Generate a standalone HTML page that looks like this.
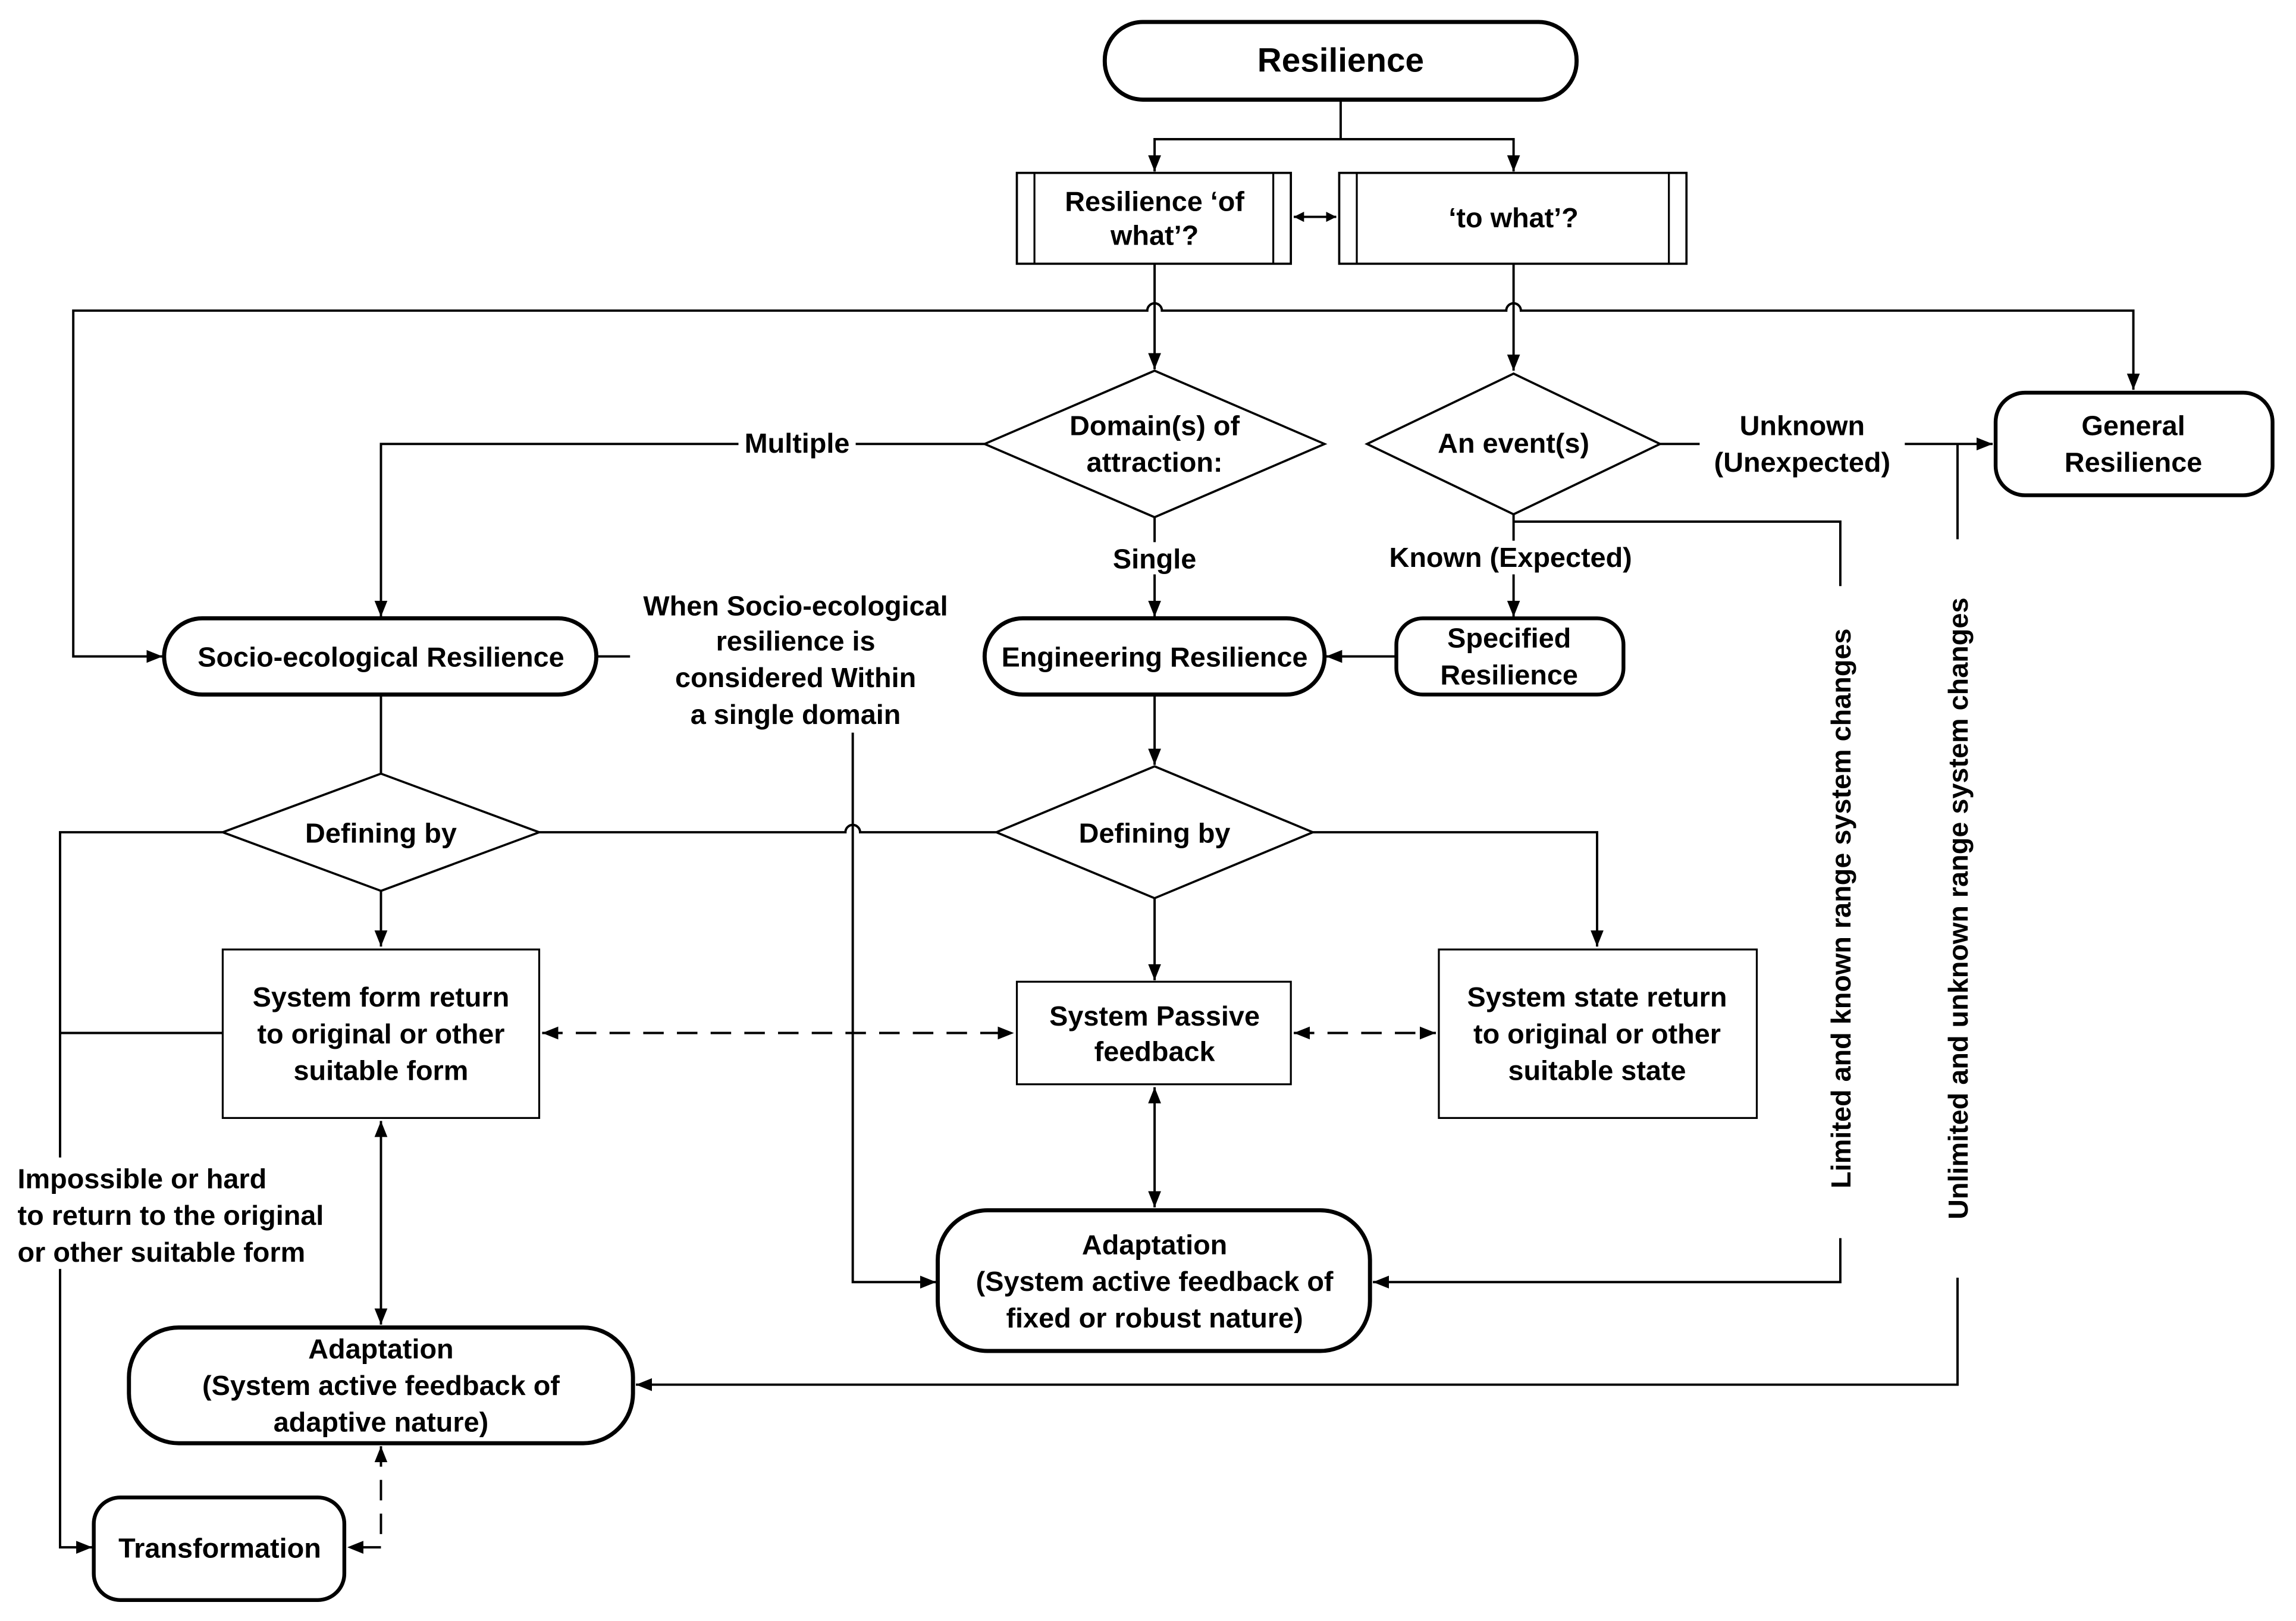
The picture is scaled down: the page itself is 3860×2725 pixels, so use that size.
<!DOCTYPE html>
<html><head><meta charset="utf-8"><style>
html,body{margin:0;padding:0;background:#fff;}
svg{display:block;}
text{font-family:"Liberation Sans",Arial,sans-serif;font-weight:bold;font-size:19px;fill:#000;text-anchor:middle;}
</style></head><body>
<svg width="3860" height="2725" viewBox="0 0 1567 1106.3" preserveAspectRatio="none" xmlns="http://www.w3.org/2000/svg">
<defs>
<marker id="a" viewBox="0 0 10 10" refX="10" refY="5" markerWidth="7" markerHeight="7" orient="auto-start-reverse" markerUnits="userSpaceOnUse"><path d="M0,0L10,5L0,10z" fill="#000"/></marker>
<marker id="b" viewBox="0 0 10 10" refX="10" refY="5" markerWidth="11" markerHeight="11" orient="auto-start-reverse" markerUnits="userSpaceOnUse"><path d="M0,1L10,5L0,9z" fill="#000"/></marker>
</defs>
<rect width="1567" height="1106.3" fill="#fff"/>
<g fill="none" stroke="#000" stroke-width="1.6">
<polyline points="915,68 915,95 788,95 788,117" marker-end="url(#b)"/>
<polyline points="915,95 1033,95 1033,117" marker-end="url(#b)"/>
<line x1="883" y1="148" x2="912" y2="148" marker-start="url(#a)" marker-end="url(#a)"/>
<path d="M112,448 L50,448 L50,212 L783,212 A5,5 0 0 1 793,212 L1028,212 A5,5 0 0 1 1038,212 L1456,212 L1456,266" marker-end="url(#b)"/>
<line x1="60" y1="448" x2="111" y2="448" marker-end="url(#b)"/>
<line x1="788" y1="180" x2="788" y2="252" marker-end="url(#b)"/>
<line x1="1033" y1="180" x2="1033" y2="253" marker-end="url(#b)"/>
<polyline points="672,303 260,303 260,421" marker-end="url(#b)"/>
<line x1="788" y1="353" x2="788" y2="421" marker-end="url(#b)"/>
<line x1="1133" y1="303" x2="1360" y2="303" marker-end="url(#b)"/>
<line x1="1033" y1="351" x2="1033" y2="421" marker-end="url(#b)"/>
<polyline points="1033,356 1256,356 1256,400"/>
<polyline points="1256,845 1256,875 937,875" marker-end="url(#b)"/>
<line x1="1336" y1="303" x2="1336" y2="368"/>
<polyline points="1336,872 1336,945 434,945" marker-end="url(#b)"/>
<line x1="953" y1="448" x2="905" y2="448" marker-end="url(#b)"/>
<line x1="407" y1="448" x2="430" y2="448"/>
<polyline points="582,500 582,875 639,875" marker-end="url(#b)"/>
<line x1="260" y1="474" x2="260" y2="528"/>
<line x1="788" y1="474" x2="788" y2="522" marker-end="url(#b)"/>
<path d="M368,568 L577,568 A5,5 0 0 1 587,568 L680,568"/>
<polyline points="896,568 1090,568 1090,646" marker-end="url(#b)"/>
<polyline points="152,568 41,568 41,790"/>
<polyline points="41,866 41,1056 63,1056" marker-end="url(#b)"/>
<line x1="41" y1="705" x2="152" y2="705"/>
<line x1="260" y1="608" x2="260" y2="646" marker-end="url(#b)"/>
<line x1="788" y1="613" x2="788" y2="669" marker-end="url(#b)"/>
<line x1="370" y1="705" x2="692" y2="705" stroke-dasharray="14,9" marker-start="url(#b)" marker-end="url(#b)"/>
<line x1="883" y1="705" x2="980" y2="705" stroke-dasharray="14,9" marker-start="url(#b)" marker-end="url(#b)"/>
<line x1="788" y1="742" x2="788" y2="824" marker-start="url(#b)" marker-end="url(#b)"/>
<line x1="260" y1="765" x2="260" y2="904" marker-start="url(#b)" marker-end="url(#b)"/>
<polyline points="260,987 260,1056 237,1056" stroke-dasharray="14,9" marker-start="url(#b)" marker-end="url(#b)"/>
</g>
<g fill="#fff" stroke="#000">
<rect x="754" y="15" width="322" height="53" rx="26" stroke-width="2.8"/>
<rect x="694" y="118" width="187" height="62" stroke-width="1.5"/>
<line x1="706" y1="118" x2="706" y2="180" stroke-width="1.3"/><line x1="869" y1="118" x2="869" y2="180" stroke-width="1.3"/>
<rect x="914" y="118" width="237" height="62" stroke-width="1.5"/>
<line x1="926" y1="118" x2="926" y2="180" stroke-width="1.3"/><line x1="1139" y1="118" x2="1139" y2="180" stroke-width="1.3"/>
<polygon points="672,303 788,253 904,303 788,353" stroke-width="1.5"/>
<polygon points="933,303 1033,255 1133,303 1033,351" stroke-width="1.5"/>
<rect x="1362" y="268" width="189" height="70" rx="20" stroke-width="2.6"/>
<rect x="112" y="422" width="295" height="52" rx="26" stroke-width="2.8"/>
<rect x="672" y="422" width="232" height="52" rx="26" stroke-width="2.8"/>
<rect x="953" y="422" width="155" height="52" rx="18" stroke-width="2.6"/>
<polygon points="152,568 260,528 368,568 260,608" stroke-width="1.5"/>
<polygon points="680,568 788,523 896,568 788,613" stroke-width="1.5"/>
<rect x="152" y="648" width="216" height="115" stroke-width="1.3"/>
<rect x="694" y="670" width="187" height="70" stroke-width="1.3"/>
<rect x="982" y="648" width="217" height="115" stroke-width="1.3"/>
<rect x="640" y="826" width="295" height="96" rx="34" stroke-width="2.8"/>
<rect x="88" y="906" width="344" height="79" rx="34" stroke-width="2.8"/>
<rect x="64" y="1022" width="171" height="70" rx="18" stroke-width="2.6"/>
</g>
<g fill="#fff">
<rect x="504" y="292" width="80" height="22"/>
<rect x="757" y="370" width="64" height="22"/>
<rect x="940" y="369" width="184" height="23"/>
<rect x="1160" y="278" width="140" height="50"/>
<rect x="8" y="790" width="235" height="76"/>
</g>
<text x="915" y="49" style="font-size:23px">Resilience</text>
<text x="788" y="144">Resilience ‘of</text><text x="788" y="167">what’?</text>
<text x="1033" y="155">‘to what’?</text>
<text x="788" y="297">Domain(s) of</text><text x="788" y="322">attraction:</text>
<text x="1033" y="309">An event(s)</text>
<text x="544" y="309">Multiple</text>
<text x="788" y="388">Single</text>
<text x="1031" y="387">Known (Expected)</text>
<text x="1230" y="297">Unknown</text><text x="1230" y="322">(Unexpected)</text>
<text x="1456" y="297">General</text><text x="1456" y="322">Resilience</text>
<text x="260" y="455">Socio-ecological Resilience</text>
<text x="788" y="455">Engineering Resilience</text>
<text x="1030" y="442">Specified</text><text x="1030" y="467">Resilience</text>
<text x="543" y="420">When Socio-ecological</text>
<text x="543" y="444">resilience is</text>
<text x="543" y="469">considered Within</text>
<text x="543" y="494">a single domain</text>
<text x="260" y="575">Defining by</text>
<text x="788" y="575">Defining by</text>
<text x="260" y="687">System form return</text><text x="260" y="712">to original or other</text><text x="260" y="737">suitable form</text>
<text x="788" y="700">System Passive</text><text x="788" y="724">feedback</text>
<text x="1090" y="687">System state return</text><text x="1090" y="712">to original or other</text><text x="1090" y="737">suitable state</text>
<text x="788" y="856">Adaptation</text><text x="788" y="881">(System active feedback of</text><text x="788" y="906">fixed or robust nature)</text>
<text x="260" y="927">Adaptation</text><text x="260" y="952">(System active feedback of</text><text x="260" y="977">adaptive nature)</text>
<text x="150" y="1063">Transformation</text>
<text x="12" y="811" style="text-anchor:start">Impossible or hard</text>
<text x="12" y="836" style="text-anchor:start">to return to the original</text>
<text x="12" y="861" style="text-anchor:start">or other suitable form</text>
<text transform="translate(1263,620) rotate(-90)">Limited and known range system changes</text>
<text transform="translate(1343,620) rotate(-90)">Unlimited  and unknown range system changes</text>
</svg>
</body></html>
